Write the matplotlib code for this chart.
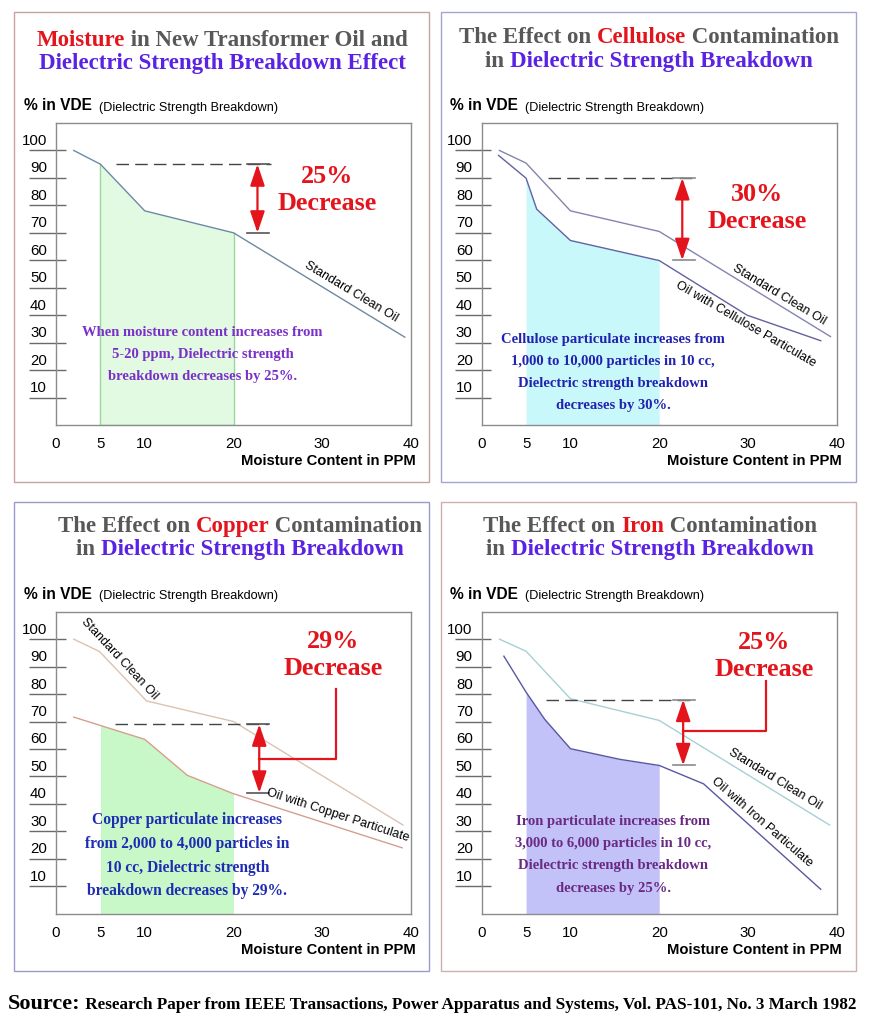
import numpy as np
import matplotlib
matplotlib.use("Agg")
import matplotlib.pyplot as plt
from matplotlib.patches import Rectangle

W, H = 874, 1024

# ---- values ----
x_ticks = [0, 5, 10, 20, 30, 40]
y_ticks = [10, 20, 30, 40, 50, 60, 70, 80, 90, 100]

moist_clean_x = [2, 5, 10, 20, 39.3]
moist_clean_y = [100, 95, 78, 70, 32]

cell_clean_x = [2, 5, 10, 20, 39.3]
cell_clean_y = [100, 95.4, 78, 70.5, 32.2]
cell_oil_x = [1.9, 5, 6.2, 10, 20, 29.9, 38.2]
cell_oil_y = [98.2, 89.9, 78.6, 67.2, 59.9, 40, 30.7]

cu_clean_x = [2, 4.9, 10.2, 20, 39.1]
cu_clean_y = [100, 95.5, 77.5, 70, 32.3]
cu_oil_x = [2, 10, 14.8, 20, 39]
cu_oil_y = [71.6, 63.5, 50.4, 43.7, 24]

fe_clean_x = [2, 5, 10, 20, 39.2]
fe_clean_y = [100, 95.6, 78.3, 70.4, 32.3]
fe_oil_x = [2.5, 5, 7.1, 10, 15.6, 20, 25, 38.2]
fe_oil_y = [93.8, 80.7, 70.8, 60.1, 56.2, 54, 47.3, 8.9]

band = (5, 20)                  # shaded ppm range
moist_drop = (95, 70)
cell_drop = (90, 60)
cu_drop = (69, 44)
fe_drop = (78, 54)

RED = "#e3141c"
GRAY = "#585858"
PURPLE = "#5a22e2"
SERIF = "Liberation Serif"
SANS = "Liberation Sans"

plt.rcParams['font.family'] = SANS

fig = plt.figure(figsize=(W / 100, H / 100), dpi=100)
renderer = fig.canvas.get_renderer()


def fx(x):
    return x / W


def fy(y):
    return 1 - y / H


def width_px(s, **kw):
    t = fig.text(0, 0, s + "x", **kw)
    w1 = t.get_window_extent(renderer).width
    t.remove()
    t = fig.text(0, 0, "x", **kw)
    w2 = t.get_window_extent(renderer).width
    t.remove()
    return w1 - w2


def rich(x, y, pieces, ha="center"):
    # pieces: (text, color, font kwargs)
    ws = [width_px(s, **kw) for s, c, kw in pieces]
    start = x - sum(ws) / 2 if ha == "center" else x
    for (s, c, kw), w in zip(pieces, ws):
        fig.text(fx(start), fy(y), s, color=c, ha="left", va="baseline", **kw)
        start += w


title_kw = dict(family=SERIF, weight="bold", size=16.5)


def title(cx, y1, y2, line1, line2):
    rich(cx, y1, [(s, c, title_kw) for s, c in line1])
    rich(cx, y2, [(s, c, title_kw) for s, c in line2])


def panel(box, box_color, l, t, cx, ty, line1, line2):
    x0, y0, x1, y1 = box
    fig.add_artist(Rectangle((fx(x0), fy(y1)), fx(x1 - x0), (y1 - y0) / H,
                             transform=fig.transFigure, fill=False,
                             ec=box_color, lw=1))
    title(cx, ty, ty + 23.5, line1, line2)
    rich(l - 32, t - 12.5,
         [("% in VDE", "black", dict(family=SANS, weight="bold", size=11.2)),
          ("  (Dielectric Strength Breakdown)", "black", dict(family=SANS, size=9.1))],
         ha="left")
    ax = fig.add_axes([fx(l), fy(t + 302), 355 / W, 302 / H])
    ax.set_xlim(0, 40)
    ax.set_ylim(0, 110)
    for sp in ax.spines.values():
        sp.set_color("#8c8c8c")
        sp.set_linewidth(1)
    ax.set_xticks(x_ticks)
    ax.set_xticklabels([str(v) for v in x_ticks])
    ax.tick_params(axis="x", which="major", length=0, pad=8.5, labelsize=10.8)
    ax.set_xticks([10, 20, 30], minor=True)
    ax.tick_params(axis="x", which="minor", direction="in", length=6,
                   color="#8c8c8c")
    ax.set_yticks([v + 4 for v in y_ticks])
    ax.set_yticklabels([str(v) for v in y_ticks])
    ax.tick_params(axis="y", length=0, pad=6.5, labelsize=10.8)
    ax.hlines(y_ticks, -0.076, 0.027, transform=ax.get_yaxis_transform(),
              color="#6a6a6a", lw=1, clip_on=False)
    ax.text(1.014, -0.132, "Moisture Content in PPM", transform=ax.transAxes,
            ha="right", va="baseline", weight="bold", size=10.6)
    return ax


def shade(ax, x, y, color, edge=None):
    xs = [band[0]] + [v for v in x if band[0] < v < band[1]] + [band[1]]
    ys = np.interp(xs, x, y)
    ax.fill_between(xs, 0, ys, color=color, lw=0, zorder=1)
    if edge:
        ax.plot([xs[0], xs[0], xs[-1], xs[-1]], [ys[0], 0, 0, ys[-1]],
                color=edge, lw=1, zorder=1.5)


def bracket(ax, drop, dash_from, dash_to, ax_x=22.7, tick_c="#555555"):
    top, bot = drop
    ax.plot([dash_from, dash_to], [top, top], color="#444444", lw=1,
            ls=(0, (9, 4.5)), zorder=2)
    for v in drop:
        ax.plot([21.5, 24.0], [v, v], color=tick_c, lw=1.2, zorder=2)
    ax.annotate("", xy=(ax_x, bot), xytext=(ax_x, top),
                arrowprops=dict(arrowstyle="<|-|>,head_length=0.65,head_width=0.22",
                                color=RED, lw=1.6, shrinkA=0, shrinkB=0,
                                mutation_scale=20), zorder=3)


def decrease(ax, x, y, pct):
    kw = dict(family=SERIF, weight="bold", size=18.8, color=RED, ha="center",
              va="center")
    ax.text(x, y, pct, **kw)
    ax.text(x, y - 9.7, "Decrease", **kw)


def note(ax, x, y0, step, lines, color, size):
    for i, s in enumerate(lines):
        ax.text(x, y0 - i * step, s, family=SERIF, weight="bold", size=size,
                color=color, ha="center", va="center")


def label(ax, x, y, s, rot):
    ax.text(x, y, s, rotation=rot, rotation_mode="anchor", ha="center",
            va="center", size=9, color="black")


# ---- panel 1: moisture ----
ax = panel((14, 12, 429, 482), "#c8a2a2", 56, 123, 222, 45.5,
           [("Moisture", RED), (" in New Transformer Oil and", GRAY)],
           [("Dielectric Strength Breakdown Effect", PURPLE)])
shade(ax, moist_clean_x, moist_clean_y, "#e2fae2", edge="#98d898")
ax.plot(moist_clean_x, moist_clean_y, color="#6c8aa4", lw=1, zorder=2)
bracket(ax, moist_drop, 6.8, 24.2)
decrease(ax, 30.5, 90.5, "25%")
label(ax, 33.3, 48.6, "Standard Clean Oil", -31)
note(ax, 16.5, 33.8, 8.1,
     ["When moisture content increases from",
      "5-20 ppm, Dielectric strength",
      "breakdown decreases by 25%."], "#7a30c8", 10.5)

# ---- panel 2: cellulose ----
ax = panel((441, 12, 856, 482), "#a4a4d2", 481.7, 123, 649, 43.3,
           [("The Effect on ", GRAY), ("Cellulose", RED), (" Contamination", GRAY)],
           [("in ", GRAY), ("Dielectric Strength Breakdown", PURPLE)])
shade(ax, cell_oil_x, cell_oil_y, "#c8f8fa")
ax.plot(cell_clean_x, cell_clean_y, color="#8484b0", lw=1, zorder=2)
ax.plot(cell_oil_x, cell_oil_y, color="#6262a2", lw=1, zorder=2)
bracket(ax, cell_drop, 7.5, 24.0, ax_x=22.6, tick_c="#8a8a8a")
decrease(ax, 31, 84, "30%")
label(ax, 33.5, 47.4, "Standard Clean Oil", -31)
label(ax, 29.7, 36.5, "Oil with Cellulose Particulate", -30)
note(ax, 14.8, 31.3, 8.1,
     ["Cellulose particulate increases from",
      "1,000 to 10,000 particles in 10 cc,",
      "Dielectric strength breakdown",
      "decreases by 30%."], "#2222b0", 10.5)

# ---- panel 3: copper ----
ax = panel((14, 502, 429, 971), "#9a9ace", 56, 611.7, 240, 531.7,
           [("The Effect on ", GRAY), ("Copper", RED), (" Contamination", GRAY)],
           [("in ", GRAY), ("Dielectric Strength Breakdown", PURPLE)])
shade(ax, cu_oil_x, cu_oil_y, "#c8f8c8")
ax.plot(cu_clean_x, cu_clean_y, color="#dcc2b2", lw=1, zorder=2)
ax.plot(cu_oil_x, cu_oil_y, color="#d4a08e", lw=1, zorder=2)
bracket(ax, cu_drop, 6.6, 23.9, ax_x=22.9)
ax.plot([22.9, 31.5, 31.5], [56.3, 56.3, 81.9], color=RED, lw=1.6, zorder=2)
decrease(ax, 31.2, 99, "29%")
label(ax, 7.1, 92.8, "Standard Clean Oil", -47)
label(ax, 31.8, 36, "Oil with Copper Particulate", -18)
note(ax, 14.8, 34.2, 8.7,
     ["Copper particulate increases",
      "from 2,000 to 4,000 particles in",
      "10 cc, Dielectric strength",
      "breakdown decreases by 29%."], "#1e2cb4", 11.2)

# ---- panel 4: iron ----
ax = panel((441, 502, 856, 971), "#cfaeae", 481.7, 611.7, 650, 531.7,
           [("The Effect on ", GRAY), ("Iron", RED), (" Contamination", GRAY)],
           [("in ", GRAY), ("Dielectric Strength Breakdown", PURPLE)])
shade(ax, fe_oil_x, fe_oil_y, "#c2c2f8")
ax.plot(fe_clean_x, fe_clean_y, color="#a8d0d4", lw=1, zorder=2)
ax.plot(fe_oil_x, fe_oil_y, color="#5858a2", lw=1, zorder=2)
bracket(ax, fe_drop, 7.3, 23.5, tick_c="#8a8a8a")
ax.plot([22.7, 32, 32], [66.4, 66.4, 84.6], color=RED, lw=1.6, zorder=2)
decrease(ax, 31.8, 98.7, "25%")
label(ax, 33.1, 48.8, "Standard Clean Oil", -31.5)
label(ax, 31.6, 33.4, "Oil with Iron Particulate", -41)
note(ax, 14.8, 33.6, 8.1,
     ["Iron particulate increases from",
      "3,000 to 6,000 particles in 10 cc,",
      "Dielectric strength breakdown",
      "decreases by 25%."], "#6a2a84", 10.5)

# ---- source line ----
rich(8, 1009,
     [("Source:", "black", dict(family=SERIF, weight="bold", size=16)),
      (" Research Paper from IEEE Transactions, Power Apparatus and Systems, "
       "Vol. PAS-101, No. 3 March 1982", "black",
       dict(family=SERIF, weight="bold", size=12.3))],
     ha="left")

fig.savefig("out.png", dpi=100)
